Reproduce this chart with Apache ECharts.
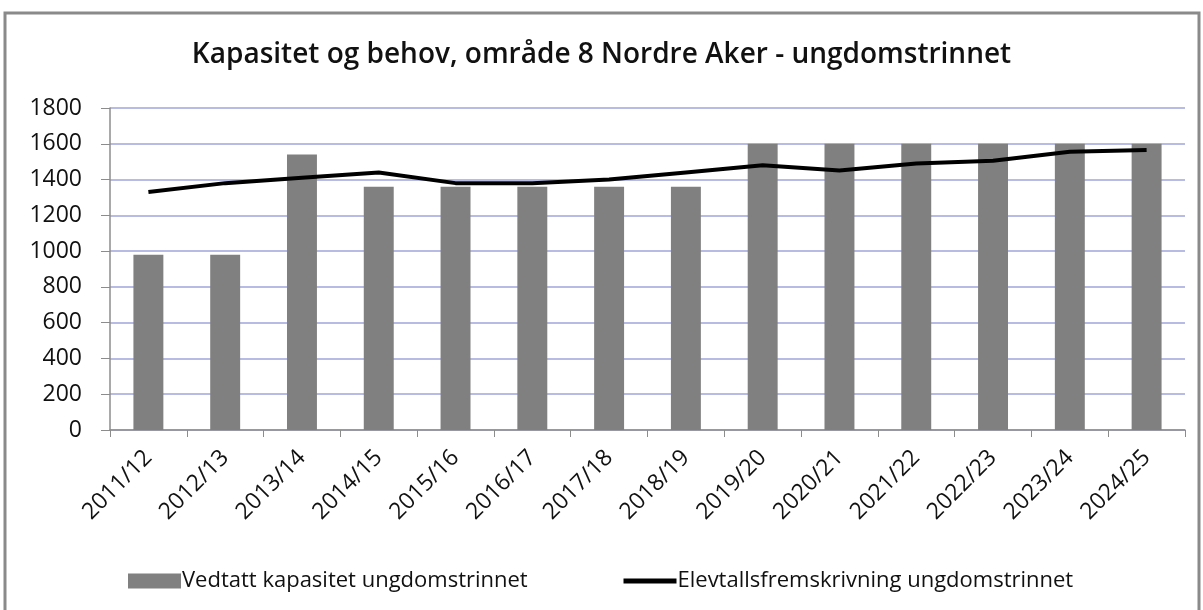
<!DOCTYPE html>
<html>
<head>
<meta charset="utf-8">
<script src="https://cdn.jsdelivr.net/npm/echarts@6/dist/echarts.min.js"></script>
<style>
  html, body { margin: 0; padding: 0; background: #fff; }
  #chart { width: 1203px; height: 610px; }
</style>
</head>
<body>
<div id="chart"></div>
<script>
// skoleår
const years = ['2011/12', '2012/13', '2013/14', '2014/15', '2015/16', '2016/17', '2017/18',
  '2018/19', '2019/20', '2020/21', '2021/22', '2022/23', '2023/24', '2024/25']
// vedtatt kapasitet (søyler)
const capacity = [980, 980, 1540, 1360, 1360, 1360, 1360, 1360, 1600, 1600, 1600, 1600, 1600, 1600]
// elevtallsfremskrivning (linje)
const pupils = [1330, 1380, 1410, 1440, 1380, 1380, 1400, 1440, 1480, 1450, 1490, 1505, 1555, 1565]
const yTicks = [0, 200, 400, 600, 800, 1000, 1200, 1400, 1600, 1800]

const barName = 'Vedtatt kapasitet ungdomstrinnet'
const lineName = 'Elevtallsfremskrivning ungdomstrinnet'

const font = '"Open Sans", "DejaVu Sans", sans-serif'
const myChart = echarts.init(document.getElementById('chart'))

const legendBase = {
  top: 565,
  itemWidth: 53,
  itemHeight: 15,
  itemGap: 6,
  textStyle: { fontFamily: font, fontSize: 22, color: '#111', padding: [0, 0, 0, -4] }
}

const options = {
  animation: false,
  backgroundColor: '#fff',
  title: {
    text: 'Kapasitet og behov, område 8 Nordre Aker - ungdomstrinnet',
    left: 'center',
    top: 36,
    textStyle: { fontFamily: font, fontSize: 28, fontWeight: 600, color: '#111' }
  },
  graphic: [{
    type: 'rect',
    shape: { x: 5, y: 13, width: 1194, height: 610 },
    style: { fill: 'none', stroke: '#8a8a8a', lineWidth: 3 },
    silent: true
  }],
  legend: [
    {
      ...legendBase,
      left: 123,
      data: [{ name: barName, icon: 'rect' }]
    },
    {
      ...legendBase,
      left: 616,
      lineStyle: { width: 5, color: '#000' },
      data: [{ name: lineName, itemStyle: { opacity: 0 } }]
    }
  ],
  grid: { left: 110, right: 18, top: 108, bottom: 180 },
  xAxis: {
    type: 'category',
    data: years,
    axisLine: { lineStyle: { color: '#8c8c8c', width: 1.5 } },
    axisTick: { show: true, length: 7, lineStyle: { color: '#8c8c8c' } },
    axisLabel: {
      rotate: 45,
      margin: 24,
      fontFamily: font,
      fontSize: 23,
      color: '#111',
      interval: 0
    }
  },
  yAxis: {
    type: 'value',
    min: yTicks[0],
    max: yTicks[yTicks.length - 1],
    interval: 200,
    axisLine: { show: true, lineStyle: { color: '#8c8c8c', width: 1.5 } },
    axisTick: { show: true, length: 9, lineStyle: { color: '#8c8c8c' } },
    axisLabel: {
      fontFamily: font,
      fontSize: 23,
      color: '#111',
      margin: 28,
      formatter: v => String(v)
    },
    splitLine: { lineStyle: { color: '#a0a6dc', width: 1.5 } }
  },
  series: [
    {
      name: barName,
      type: 'bar',
      data: capacity,
      barWidth: '39%',
      itemStyle: { color: '#808080' }
    },
    {
      name: lineName,
      type: 'line',
      data: pupils,
      symbol: 'none',
      lineStyle: { color: '#000', width: 4 },
      itemStyle: { color: '#000' }
    }
  ]
}

myChart.setOption(options)
</script>
</body>
</html>
